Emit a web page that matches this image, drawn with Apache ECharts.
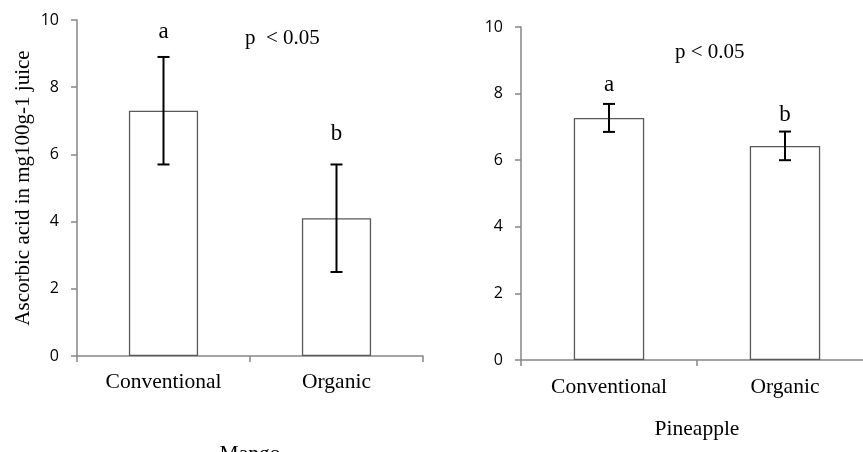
<!DOCTYPE html>
<html>
<head>
<meta charset="utf-8">
<script src="https://cdn.jsdelivr.net/npm/echarts@6/dist/echarts.min.js"></script>
<style>html,body{margin:0;padding:0;background:#fff}#c{width:863px;height:452px}</style>
</head>
<body>
<div id="c"></div>
<script>
const categories = ['Conventional', 'Organic'];
const mangoMean = [7.3, 4.1];
const mangoErr = [1.6, 1.6];
const mangoLetters = ['a', 'b'];
const pineMean = [7.27, 6.43];
const pineErr = [0.42, 0.43];
const pineLetters = ['a', 'b'];
const yTicks = [0, 2, 4, 6, 8, 10];
const groupNames = ['Mango', 'Pineapple'];
const yLabel = 'Ascorbic acid in mg100g-1 juice';
const pText = ['p  < 0.05', 'p < 0.05'];

const serif = '"Liberation Serif", "Times New Roman", serif';
const sans = '"Open Sans", sans-serif';
const axisColor = '#868686';

function errSeries(idx, means, errs, letters, offsets) {
  return {
    type: 'custom', xAxisIndex: idx, yAxisIndex: idx, z: 10,
    data: means.map((m, i) => [i, m - errs[i], m + errs[i], letters[i]]),
    renderItem: function (params, api) {
      const x = api.value(0);
      const lo = api.coord([x, api.value(1)]);
      const hi = api.coord([x, api.value(2)]);
      const hw = 6;
      const st = { stroke: '#000', lineWidth: 2 };
      return {
        type: 'group',
        children: [
          { type: 'line', shape: { x1: lo[0], y1: lo[1], x2: hi[0], y2: hi[1] }, style: st },
          { type: 'line', shape: { x1: lo[0] - hw, y1: lo[1], x2: lo[0] + hw, y2: lo[1] }, style: st },
          { type: 'line', shape: { x1: hi[0] - hw, y1: hi[1], x2: hi[0] + hw, y2: hi[1] }, style: st },
          { type: 'text', style: { text: api.value(3), x: hi[0], y: hi[1] - offsets[params.dataIndex],
              align: 'center', verticalAlign: 'middle', font: '23px ' + serif, fill: '#000' } }
        ]
      };
    }
  };
}

const chart = echarts.init(document.getElementById('c'));
const grids = [
  { left: 77, top: 20, width: 346, height: 336, outerBoundsMode: 'none', containLabel: false },
  { left: 521, top: 27, width: 352, height: 333, outerBoundsMode: 'none', containLabel: false }
];
function xAx(idx, gap, margin) {
  return {
    type: 'category', gridIndex: idx, data: categories,
    name: groupNames[idx], nameLocation: 'middle', nameGap: gap,
    nameTextStyle: { fontFamily: serif, fontSize: 21.5, color: '#000' },
    axisLine: { lineStyle: { color: axisColor, width: 1.5 } },
    axisTick: { show: true, length: 6, lineStyle: { color: axisColor, width: 1.5 } },
    axisLabel: { fontFamily: serif, fontSize: 21.5, color: '#000', margin: margin },
    splitLine: { show: false }
  };
}
function yAx(idx, withName) {
  const o = {
    type: 'value', gridIndex: idx, min: yTicks[0], max: yTicks[yTicks.length - 1], interval: 2,
    axisLine: { show: true, lineStyle: { color: axisColor, width: 1.5 } },
    axisTick: { show: true, length: 6, lineStyle: { color: axisColor, width: 1.5 } },
    axisLabel: { fontFamily: sans, fontSize: 16, color: '#000', margin: 18 },
    splitLine: { show: false }
  };
  if (withName) {
    o.name = yLabel; o.nameLocation = 'middle'; o.nameGap = 43;
    o.nameTextStyle = { fontFamily: serif, fontSize: 21, color: '#000' };
  }
  return o;
}
const barStyle = { color: '#fff', borderColor: '#595959', borderWidth: 1.3 };
chart.setOption({
  animation: false,
  backgroundColor: '#fff',
  grid: grids,
  xAxis: [xAx(0, 87, 15), xAx(1, 58, 16)],
  yAxis: [yAx(0, true), yAx(1, false)],
  series: [
    { type: 'bar', xAxisIndex: 0, yAxisIndex: 0, data: mangoMean, barWidth: '40%', itemStyle: barStyle },
    { type: 'bar', xAxisIndex: 1, yAxisIndex: 1, data: pineMean, barWidth: '40%', itemStyle: barStyle },
    errSeries(0, mangoMean, mangoErr, mangoLetters, [25, 31]),
    errSeries(1, pineMean, pineErr, pineLetters, [19, 17])
  ],
  graphic: [
    { type: 'text', left: 245, top: 28, style: { text: pText[0], font: '21px ' + serif, fill: '#000' } },
    { type: 'text', left: 675, top: 42, style: { text: pText[1], font: '21px ' + serif, fill: '#000' } }
  ]
});
</script>
</body>
</html>
